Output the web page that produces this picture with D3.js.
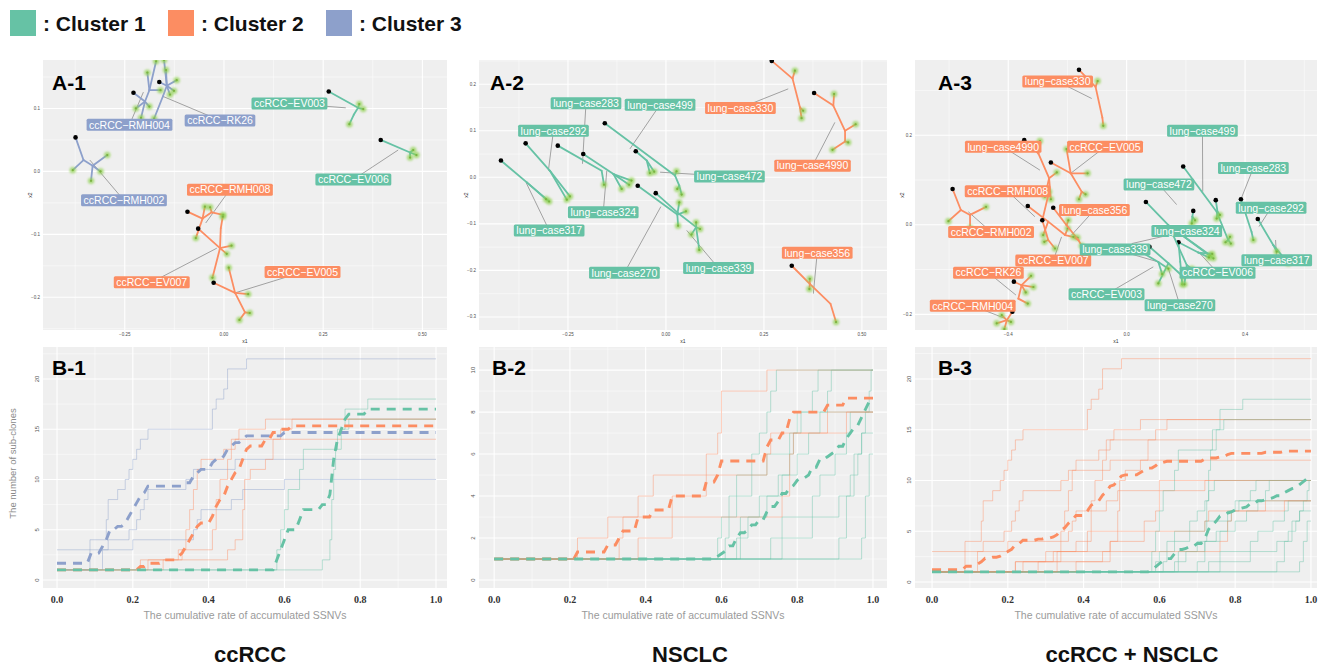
<!DOCTYPE html>
<html>
<head>
<meta charset="utf-8">
<script src="https://cdnjs.cloudflare.com/ajax/libs/d3/7.8.5/d3.min.js"></script>
<style>
  body { margin: 0; background: #fff; }
  text { font-family: "Liberation Sans", Arial, sans-serif; }
</style>
</head>
<body>
<script>
// cluster colours (ColorBrewer Set2)
var clusterColors = {1: "#66C2A5", 2: "#FC8D62", 3: "#8DA0CB"};
var legendLabels = [": Cluster 1", ": Cluster 2", ": Cluster 3"];
var columnTitles = ["ccRCC", "NSCLC", "ccRCC + NSCLC"];
var panelTagsA = ["A-1", "A-2", "A-3"];
var panelTagsB = ["B-1", "B-2", "B-3"];

// ---- B panels: number of sub-clones vs cumulative SSNV rate, [rate, count] at each step
var ccrccNames = ["ccRCC-RK26", "ccRCC-RMH004", "ccRCC-RMH002", "ccRCC-EV007", "ccRCC-RMH008", "ccRCC-EV005", "ccRCC-EV003", "ccRCC-EV006"];
var ccrccSteps = [
  [[0,1],[0.087,4],[0.13,6],[0.135,8],[0.16,9],[0.18,10],[0.19,11],[0.2,12],[0.21,13],[0.22,14],[0.24,15],[0.41,17],[0.42,18],[0.44,19],[0.45,21],[0.5,22]],
  [[0,1],[0.12,3],[0.135,4],[0.19,5],[0.21,6],[0.22,7],[0.23,8],[0.24,9],[0.34,10],[0.36,11],[0.47,12]],
  [[0,3],[0.2,4],[0.36,5],[0.37,6],[0.38,7],[0.46,8],[0.49,9],[0.6,10]],
  [[0,1],[0.28,2],[0.32,3],[0.34,5],[0.35,7],[0.36,9],[0.37,11],[0.38,12],[0.44,13],[0.46,14],[0.48,15],[0.55,16]],
  [[0,1],[0.24,2],[0.33,3],[0.41,5],[0.42,8],[0.43,10],[0.45,12],[0.46,13],[0.47,14]],
  [[0,1],[0.22,2],[0.45,3],[0.47,4],[0.49,7],[0.495,10],[0.51,11],[0.55,12],[0.57,14],[0.59,15],[0.62,16]],
  [[0,1],[0.58,3],[0.59,5],[0.6,7],[0.61,9],[0.64,11],[0.65,13],[0.74,15],[0.76,17],[0.82,18]],
  [[0,1],[0.7,2],[0.72,4],[0.725,8],[0.73,11],[0.735,13],[0.75,15],[0.77,16]]
];
var ccrccClusterOwn = [3, 3, 3, 2, 2, 2, 1, 1];
var ccrccClusterJoint = [2, 2, 2, 2, 2, 2, 1, 1];

var lungNames = ["lung-case499", "lung-case283", "lung-case292", "lung-case472", "lung-case324", "lung-case317", "lung-case270", "lung-case339", "lung-case4990", "lung-case330", "lung-case356"];
var lungSteps = [
  [[0,1],[0.59,2],[0.6,3],[0.62,4],[0.64,5],[0.68,6],[0.7,7],[0.72,8],[0.73,9],[0.745,10]],
  [[0,1],[0.61,2],[0.62,3],[0.64,4],[0.68,5],[0.72,6],[0.78,7],[0.8,8],[0.84,9],[0.855,10]],
  [[0,1],[0.64,2],[0.65,3],[0.7,4],[0.75,5],[0.8,6],[0.83,7],[0.86,8],[0.88,9],[0.89,10]],
  [[0,1],[0.91,2],[0.93,4],[0.95,6],[0.97,7],[0.98,8],[0.99,9],[0.995,10]],
  [[0,1],[0.65,2],[0.67,3],[0.72,4],[0.76,5],[0.78,6],[0.79,7],[0.81,8]],
  [[0,1],[0.73,2],[0.76,3],[0.84,4],[0.86,5],[0.9,6],[0.93,7],[0.94,8]],
  [[0,1],[0.76,2],[0.84,3],[0.91,4],[0.94,5],[0.96,6],[0.97,7]],
  [[0,1],[0.97,2],[0.98,4],[0.99,6]],
  [[0,1],[0.22,2],[0.3,3],[0.38,4],[0.42,5],[0.56,6],[0.59,7],[0.6,9],[0.72,10]],
  [[0,1],[0.33,2],[0.34,3],[0.47,4],[0.56,5],[0.72,6],[0.73,7],[0.88,8]],
  [[0,1],[0.38,2],[0.47,3],[0.76,4],[0.78,6],[0.79,7],[0.93,8]]
];
var lungCluster = [1, 1, 1, 1, 1, 1, 1, 1, 2, 2, 2];

// ---- A panels: phylogenetic trees projected on (x1, x2); node 0 is the root
var treesA1 = [
  {name: "ccRCC-RK26", cluster: 3, nodes: [[-0.163,0.142],[-0.144,0.136],[-0.119,0.145],[-0.126,0.128],[-0.146,0.161],[-0.136,0.122],[-0.154,0.119],[-0.176,0.084],[-0.151,0.177]], parent: [-1,0,1,1,1,1,1,6,1], label: [-0.010,0.081], pointer: [-0.153,0.119]},
  {name: "ccRCC-RMH004", cluster: 3, nodes: [[-0.228,0.125],[-0.199,0.111],[-0.222,0.100],[-0.209,0.085],[-0.188,0.103],[-0.188,0.129],[-0.193,0.157],[-0.171,0.175],[-0.160,0.129]], parent: [-1,0,1,1,1,1,5,5,5], label: [-0.238,0.074], pointer: [-0.203,0.126]},
  {name: "ccRCC-RMH002", cluster: 3, nodes: [[-0.374,0.054],[-0.354,0.018],[-0.381,0.002],[-0.331,0.009],[-0.294,0.026],[-0.335,-0.015],[-0.311,0.000]], parent: [-1,0,1,1,3,3,3], label: [-0.252,-0.046], pointer: [-0.338,0.018]},
  {name: "ccRCC-EV003", cluster: 1, nodes: [[0.264,0.127],[0.338,0.101],[0.351,0.099],[0.341,0.107],[0.327,0.090],[0.316,0.075]], parent: [-1,0,1,1,1,4], label: [0.165,0.108], pointer: [0.307,0.101]},
  {name: "ccRCC-EV006", cluster: 1, nodes: [[0.395,0.050],[0.469,0.030],[0.485,0.026],[0.477,0.034],[0.469,0.022]], parent: [-1,0,1,1,1], label: [0.326,-0.013], pointer: [0.439,0.034]},
  {name: "ccRCC-RMH008", cluster: 2, nodes: [[-0.092,-0.064],[-0.054,-0.075],[-0.048,-0.056],[-0.031,-0.065],[-0.002,-0.069],[-0.035,-0.057],[-0.071,-0.106]], parent: [-1,0,1,1,3,3,1], label: [0.015,-0.029], pointer: [-0.046,-0.082]},
  {name: "ccRCC-EV007", cluster: 2, nodes: [[-0.065,-0.091],[-0.010,-0.122],[-0.029,-0.169],[0.019,-0.118],[0.007,-0.131],[-0.008,-0.090],[-0.003,-0.072]], parent: [-1,0,1,1,1,1,5], label: [-0.182,-0.176], pointer: [-0.018,-0.122]},
  {name: "ccRCC-EV005", cluster: 2, nodes: [[-0.026,-0.177],[0.028,-0.193],[0.012,-0.153],[0.061,-0.195],[0.053,-0.224],[0.039,-0.236],[0.065,-0.225]], parent: [-1,0,1,1,1,4,4], label: [0.198,-0.160], pointer: [0.028,-0.193]}
];

var treesA2 = [
  {name: "lung-case317", cluster: 1, nodes: [[-0.421,0.036],[-0.355,-0.011],[-0.298,-0.052],[-0.306,-0.047]], parent: [-1,0,1,1], label: [-0.298,-0.114], pointer: [-0.357,-0.011]},
  {name: "lung-case292", cluster: 1, nodes: [[-0.358,0.073],[-0.296,0.014],[-0.245,-0.041],[-0.253,-0.048]], parent: [-1,0,1,1], label: [-0.287,0.100], pointer: [-0.300,0.014]},
  {name: "lung-case324", cluster: 1, nodes: [[-0.276,0.068],[-0.164,0.014],[-0.158,-0.016]], parent: [-1,0,1], label: [-0.160,-0.075], pointer: [-0.151,0.014]},
  {name: "lung-case283", cluster: 1, nodes: [[-0.211,0.050],[-0.134,0.007],[-0.094,-0.016],[-0.113,-0.025],[-0.088,-0.007]], parent: [-1,0,1,1,1], label: [-0.204,0.159], pointer: [-0.213,0.029]},
  {name: "lung-case499", cluster: 1, nodes: [[-0.156,0.116],[0.023,0.004],[0.027,0.013],[0.034,-0.018],[0.040,-0.037],[0.029,-0.025]], parent: [-1,0,1,1,3,3], label: [-0.015,0.156], pointer: [-0.092,0.061]},
  {name: "lung-case472", cluster: 1, nodes: [[-0.077,0.056],[-0.049,0.036],[-0.041,0.009],[-0.030,0.012]], parent: [-1,0,1,1], label: [0.162,0.002], pointer: [-0.015,0.011]},
  {name: "lung-case270", cluster: 1, nodes: [[-0.072,-0.018],[0.029,-0.080],[0.034,-0.054],[0.051,-0.073],[0.031,-0.104]], parent: [-1,0,1,1,1], label: [-0.106,-0.205], pointer: [-0.013,-0.063]},
  {name: "lung-case339", cluster: 1, nodes: [[-0.026,-0.034],[0.034,-0.079],[0.077,-0.107],[0.087,-0.111],[0.065,-0.123],[0.085,-0.156],[0.077,-0.097]], parent: [-1,0,1,2,2,2,2], label: [0.134,-0.195], pointer: [0.053,-0.114]},
  {name: "lung-case330", cluster: 2, nodes: [[0.270,0.250],[0.323,0.212],[0.329,0.229],[0.342,0.150],[0.346,0.127],[0.350,0.143]], parent: [-1,0,1,1,3,3], label: [0.190,0.149], pointer: [0.312,0.190]},
  {name: "lung-case4990", cluster: 2, nodes: [[0.378,0.181],[0.427,0.154],[0.429,0.179],[0.457,0.100],[0.484,0.114],[0.457,0.077],[0.425,0.059],[0.465,0.075]], parent: [-1,0,1,1,3,3,5,5], label: [0.374,0.025], pointer: [0.431,0.118]},
  {name: "lung-case356", cluster: 2, nodes: [[0.321,-0.190],[0.367,-0.229],[0.367,-0.218],[0.366,-0.240],[0.420,-0.272],[0.434,-0.311]], parent: [-1,0,1,1,1,4], label: [0.386,-0.162], pointer: [0.376,-0.250]}
];

var treesA3 = [
  {name: "lung-case330", cluster: 2, nodes: [[-0.161,0.346],[-0.105,0.308],[-0.098,0.321],[-0.082,0.239],[-0.079,0.221]], parent: [-1,0,1,1,3], label: [-0.233,0.320], pointer: [-0.118,0.282]},
  {name: "lung-case4990", cluster: 2, nodes: [[-0.346,0.189],[-0.298,0.159],[-0.293,0.187],[-0.262,0.104],[-0.236,0.117],[-0.276,0.063],[-0.256,0.057]], parent: [-1,0,1,1,3,3,3], label: [-0.417,0.174], pointer: [-0.293,0.122]},
  {name: "ccRCC-EV005", cluster: 2, nodes: [[-0.256,0.139],[-0.189,0.115],[-0.132,0.115],[-0.203,0.169],[-0.152,0.074],[-0.139,0.068],[-0.161,0.057]], parent: [-1,0,1,1,1,4,4], label: [-0.073,0.174], pointer: [-0.189,0.115]},
  {name: "ccRCC-RMH002", cluster: 2, nodes: [[-0.588,0.080],[-0.560,0.033],[-0.602,0.008],[-0.529,0.022],[-0.475,0.040],[-0.529,-0.007]], parent: [-1,0,1,1,3,3], label: [-0.458,-0.016], pointer: [-0.535,0.029]},
  {name: "ccRCC-RMH008", cluster: 2, nodes: [[-0.334,0.042],[-0.265,0.007],[-0.208,-0.023],[-0.166,-0.029],[-0.199,-0.008],[-0.282,-0.023]], parent: [-1,0,1,2,2,1], label: [-0.402,0.075], pointer: [-0.310,0.018]},
  {name: "ccRCC-EV007", cluster: 2, nodes: [[-0.285,0.010],[-0.265,-0.034],[-0.278,-0.038],[-0.242,-0.053],[-0.262,0.074]], parent: [-1,0,1,1,0], label: [-0.248,-0.080], pointer: [-0.220,-0.027]},
  {name: "lung-case356", cluster: 2, nodes: [[-0.248,0.038],[-0.203,-0.001],[-0.163,-0.034],[-0.152,-0.047],[-0.180,-0.027],[-0.197,0.010]], parent: [-1,0,1,2,2,1], label: [-0.109,0.033], pointer: [-0.186,-0.023]},
  {name: "ccRCC-RK26", cluster: 2, nodes: [[-0.381,-0.127],[-0.355,-0.135],[-0.323,-0.114],[-0.315,-0.139],[-0.341,-0.151],[-0.366,-0.165],[-0.334,-0.176]], parent: [-1,0,1,1,1,1,5], label: [-0.467,-0.107], pointer: [-0.374,-0.157]},
  {name: "ccRCC-RMH004", cluster: 2, nodes: [[-0.386,-0.194],[-0.405,-0.213],[-0.439,-0.220],[-0.413,-0.233],[-0.391,-0.217],[-0.422,-0.202]], parent: [-1,0,1,1,1,1], label: [-0.520,-0.181], pointer: [-0.411,-0.209]},
  {name: "lung-case499", cluster: 1, nodes: [[0.191,0.130],[0.304,0.029],[0.343,-0.034],[0.352,-0.042],[0.334,-0.039],[0.349,-0.027]], parent: [-1,0,1,2,2,2], label: [0.256,0.210], pointer: [0.257,0.074]},
  {name: "lung-case472", cluster: 1, nodes: [[0.225,0.031],[0.222,0.018],[0.220,0.003],[0.231,0.010]], parent: [-1,0,1,1], label: [0.109,0.090], pointer: [0.169,0.045]},
  {name: "lung-case283", cluster: 1, nodes: [[0.301,0.055],[0.307,0.029],[0.304,0.014],[0.315,0.022]], parent: [-1,0,1,1], label: [0.428,0.127], pointer: [0.386,0.057]},
  {name: "lung-case317", cluster: 1, nodes: [[0.386,0.057],[0.422,-0.016],[0.428,-0.034]], parent: [-1,0,1], label: [0.507,-0.079], pointer: [0.503,-0.034]},
  {name: "lung-case292", cluster: 1, nodes: [[0.443,0.013],[0.495,-0.045],[0.546,-0.086],[0.507,-0.060]], parent: [-1,0,1,1], label: [0.488,0.038], pointer: [0.447,-0.004]},
  {name: "lung-case324", cluster: 1, nodes: [[0.065,0.051],[0.141,-0.001],[0.282,-0.068],[0.293,-0.075]], parent: [-1,0,1,1], label: [0.203,-0.014], pointer: [0.017,-0.042]},
  {name: "ccRCC-EV006", cluster: 1, nodes: [[0.175,-0.039],[0.181,-0.083],[0.188,-0.133],[0.242,-0.062],[0.278,-0.073],[0.289,-0.065]], parent: [-1,0,1,0,3,3], label: [0.307,-0.107], pointer: [0.242,-0.060]},
  {name: "ccRCC-EV003", cluster: 1, nodes: [[0.077,-0.049],[0.141,-0.086],[0.107,-0.131],[0.191,-0.116]], parent: [-1,0,1,1], label: [-0.068,-0.155], pointer: [0.090,-0.094]},
  {name: "lung-case270", cluster: 1, nodes: [[0.152,-0.016],[0.203,-0.090],[0.195,-0.133],[0.220,-0.098]], parent: [-1,0,1,1], label: [0.180,-0.180], pointer: [0.141,-0.098]},
  {name: "lung-case339", cluster: 1, nodes: [[0.039,-0.057],[0.107,-0.083],[0.141,-0.098],[0.120,-0.110]], parent: [-1,0,1,1], label: [-0.039,-0.055], pointer: [0.107,-0.083]}
];

// ---- layout
var panelLeft = [43, 479, 915];
var panelWidth = [404, 408, 402];
var aTop = 60, aHeight = 270;
var bTop = 347, bHeight = 241;

var svg = d3.select("body").append("svg")
  .attr("width", 1319)
  .attr("height", 666);

var defs = svg.append("defs");
defs.append("filter").attr("id", "glow")
  .attr("x", "-100%").attr("y", "-100%").attr("width", "300%").attr("height", "300%")
  .append("feGaussianBlur").attr("stdDeviation", 1.1);

// legend
legendLabels.forEach(function(lab, i) {
  var lx = [10, 168, 326][i];
  svg.append("rect")
    .attr("x", lx).attr("y", 10)
    .attr("width", 26).attr("height", 26)
    .attr("fill", clusterColors[i + 1]);
  svg.append("text")
    .attr("x", lx + 33).attr("y", 31)
    .attr("font-size", 21).attr("font-weight", "bold")
    .attr("fill", "#111")
    .text(lab);
});

// column titles
columnTitles.forEach(function(t, i) {
  svg.append("text")
    .attr("x", [250, 690, 1132][i]).attr("y", 662)
    .attr("text-anchor", "middle")
    .attr("font-size", 22).attr("font-weight", "bold")
    .attr("fill", "#111")
    .text(t);
});

function minorTicks(ticks, domain) {
  var step = ticks[1] - ticks[0];
  var out = [];
  for (var v = ticks[0] - step / 2; v <= domain[1]; v += step) {
    if (v >= domain[0]) out.push(v);
  }
  return out;
}

function panelFrame(col, top, height, xDomain, yDomain, xTicks, yTicks, clipId) {
  var w = panelWidth[col];
  var g = svg.append("g").attr("transform", "translate(" + panelLeft[col] + "," + top + ")");
  var x = d3.scaleLinear().domain(xDomain).range([0, w]);
  var y = d3.scaleLinear().domain(yDomain).range([height, 0]);

  g.append("rect").attr("width", w).attr("height", height).attr("fill", "#EFEFEF");

  g.selectAll(".minor-x").data(minorTicks(xTicks, xDomain)).enter().append("line")
    .attr("x1", function(d) { return x(d); }).attr("x2", function(d) { return x(d); })
    .attr("y1", 0).attr("y2", height)
    .attr("stroke", "#fff").attr("stroke-width", 0.5);
  g.selectAll(".minor-y").data(minorTicks(yTicks, yDomain)).enter().append("line")
    .attr("y1", function(d) { return y(d); }).attr("y2", function(d) { return y(d); })
    .attr("x1", 0).attr("x2", w)
    .attr("stroke", "#fff").attr("stroke-width", 0.5);
  g.selectAll(".major-x").data(xTicks).enter().append("line")
    .attr("x1", function(d) { return x(d); }).attr("x2", function(d) { return x(d); })
    .attr("y1", 0).attr("y2", height)
    .attr("stroke", "#fff").attr("stroke-width", 1.1);
  g.selectAll(".major-y").data(yTicks).enter().append("line")
    .attr("y1", function(d) { return y(d); }).attr("y2", function(d) { return y(d); })
    .attr("x1", 0).attr("x2", w)
    .attr("stroke", "#fff").attr("stroke-width", 1.1);

  defs.append("clipPath").attr("id", clipId)
    .append("rect").attr("width", w).attr("height", height);

  return {g: g, x: x, y: y, w: w, h: height};
}

function drawTreePanel(col, trees, xDomain, yDomain, xTicks, yTicks, xFmt, yFmt) {
  var p = panelFrame(col, aTop, aHeight, xDomain, yDomain, xTicks, yTicks, "clipA" + col);
  var g = p.g, x = p.x, y = p.y;

  // axis tick labels, tiny as in the original
  g.selectAll(".xt").data(xTicks).enter().append("text")
    .attr("x", function(d) { return x(d); }).attr("y", p.h + 6)
    .attr("text-anchor", "middle").attr("font-size", 4.5).attr("fill", "#4d4d4d")
    .text(xFmt);
  g.selectAll(".yt").data(yTicks).enter().append("text")
    .attr("x", -3).attr("y", function(d) { return y(d) + 1.5; })
    .attr("text-anchor", "end").attr("font-size", 4.5).attr("fill", "#4d4d4d")
    .text(yFmt);
  g.append("text").attr("x", p.w / 2).attr("y", p.h + 13)
    .attr("text-anchor", "middle").attr("font-size", 5).attr("fill", "#333").text("x1");
  g.append("text").attr("transform", "translate(-11," + (p.h / 2) + ") rotate(-90)")
    .attr("text-anchor", "middle").attr("font-size", 5).attr("fill", "#333").text("x2");

  var inner = g.append("g").attr("clip-path", "url(#clipA" + col + ")");

  // leader lines
  inner.selectAll(".leader").data(trees).enter().append("line")
    .attr("x1", function(t) { return x(t.label[0]); })
    .attr("y1", function(t) { return y(t.label[1]); })
    .attr("x2", function(t) { return x(t.pointer[0]); })
    .attr("y2", function(t) { return y(t.pointer[1]); })
    .attr("stroke", "#555").attr("stroke-width", 0.6).attr("opacity", 0.85);

  trees.forEach(function(t) {
    var c = clusterColors[t.cluster];
    var edges = [];
    t.parent.forEach(function(par, i) { if (par >= 0) edges.push([t.nodes[par], t.nodes[i]]); });
    inner.selectAll(null).data(edges).enter().append("line")
      .attr("x1", function(e) { return x(e[0][0]); }).attr("y1", function(e) { return y(e[0][1]); })
      .attr("x2", function(e) { return x(e[1][0]); }).attr("y2", function(e) { return y(e[1][1]); })
      .attr("stroke", c).attr("stroke-width", 1.8).attr("stroke-linecap", "round");

    var leaves = t.nodes.filter(function(n, i) { return i > 0 && t.parent.indexOf(i) < 0; });
    inner.selectAll(null).data(leaves).enter().append("circle")
      .attr("cx", function(n) { return x(n[0]); }).attr("cy", function(n) { return y(n[1]); })
      .attr("r", 3.2).attr("fill", "#8fd14f").attr("opacity", 0.7)
      .attr("filter", "url(#glow)");
    inner.selectAll(null).data(leaves).enter().append("circle")
      .attr("cx", function(n) { return x(n[0]); }).attr("cy", function(n) { return y(n[1]); })
      .attr("r", 1.1).attr("fill", "#7cb342");

    inner.append("circle")
      .attr("cx", x(t.nodes[0][0])).attr("cy", y(t.nodes[0][1]))
      .attr("r", 2.3).attr("fill", "#000");
  });

  // labels
  trees.forEach(function(t) {
    var lab = inner.append("g")
      .attr("transform", "translate(" + x(t.label[0]) + "," + y(t.label[1]) + ")");
    var txt = lab.append("text")
      .attr("text-anchor", "middle").attr("y", 3.8)
      .attr("font-size", 10.5).attr("fill", "#fff")
      .text(t.name.replace(/-/g, "\u2212"));
    var tw = txt.node().getComputedTextLength();
    lab.insert("rect", "text")
      .attr("x", -tw / 2 - 2.5).attr("y", -6)
      .attr("width", tw + 5).attr("height", 12)
      .attr("rx", 1.5)
      .attr("fill", clusterColors[t.cluster]);
  });

  svg.append("text")
    .attr("x", panelLeft[col] + [9, 11, 23][col]).attr("y", 90)
    .attr("font-size", 21).attr("font-weight", "bold").attr("fill", "#000")
    .text(panelTagsA[col]);
}

function stepValue(steps, v) {
  var val = steps[0][1];
  steps.forEach(function(s) { if (s[0] <= v + 1e-9) val = s[1]; });
  return val;
}

function drawStepPanel(col, steps, clusters, xDomain, yDomain, yTicks, showYTitle) {
  var xTicks = [0, 0.2, 0.4, 0.6, 0.8, 1.0];
  var p = panelFrame(col, bTop, bHeight, xDomain, yDomain, xTicks, yTicks, "clipB" + col);
  var g = p.g, x = p.x, y = p.y;

  g.selectAll(".xt").data(xTicks).enter().append("text")
    .attr("x", function(d) { return x(d); }).attr("y", p.h + 15)
    .attr("text-anchor", "middle")
    .style("font-family", "'Liberation Serif', 'DejaVu Serif', serif")
    .attr("font-size", 10).attr("font-weight", "bold").attr("fill", "#333")
    .text(d3.format(".1f"));
  g.selectAll(".yt").data(yTicks).enter().append("text")
    .attr("transform", function(d) { return "translate(-4," + y(d) + ") rotate(-90)"; })
    .attr("text-anchor", "middle").attr("font-size", 6).attr("fill", "#555")
    .text(function(d) { return d; });
  g.append("text")
    .attr("x", p.w / 2).attr("y", p.h + 31)
    .attr("text-anchor", "middle").attr("font-size", 10.5).attr("fill", "#9a9a9a")
    .text("The cumulative rate of accumulated SSNVs");
  if (showYTitle) {
    g.append("text")
      .attr("transform", "translate(-27," + (p.h / 2 - 4) + ") rotate(-90)")
      .attr("text-anchor", "middle").attr("font-size", 9.5).attr("fill", "#8a8a8a")
      .text("The number of sub-clones");
  }

  var inner = g.append("g").attr("clip-path", "url(#clipB" + col + ")");
  var stepLine = d3.line()
    .x(function(d) { return x(d[0]); })
    .y(function(d) { return y(d[1]); })
    .curve(d3.curveStepAfter);

  steps.forEach(function(s, i) {
    inner.append("path")
      .datum(s.concat([[1, s[s.length - 1][1]]]))
      .attr("d", stepLine)
      .attr("fill", "none")
      .attr("stroke", clusterColors[clusters[i]])
      .attr("stroke-width", 0.8)
      .attr("opacity", 0.55);
  });

  // cluster mean of the step curves, read on a 0.01 grid
  var grid = d3.range(0, 101).map(function(i) { return i / 100; });
  var meanLine = d3.line()
    .x(function(d) { return x(d[0]); })
    .y(function(d) { return y(d[1]); });
  [3, 2, 1].forEach(function(c) {
    var members = steps.filter(function(s, i) { return clusters[i] === c; });
    if (!members.length) return;
    var pts = grid.map(function(v) {
      return [v, d3.mean(members, function(s) { return stepValue(s, v); })];
    });
    inner.append("path")
      .datum(pts)
      .attr("d", meanLine)
      .attr("fill", "none")
      .attr("stroke", clusterColors[c])
      .attr("stroke-width", 2.9)
      .attr("stroke-dasharray", "9,7");
  });

  svg.append("text")
    .attr("x", panelLeft[col] + [9, 13, 23][col]).attr("y", 375)
    .attr("font-size", 21).attr("font-weight", "bold").attr("fill", "#000")
    .text(panelTagsB[col]);
}

drawTreePanel(0, treesA1, [-0.456, 0.562], [-0.252, 0.177], [-0.25, 0, 0.25, 0.5], [-0.2, -0.1, 0, 0.1], d3.format(".2f"), d3.format(".1f"));
drawTreePanel(1, treesA2, [-0.477, 0.564], [-0.328, 0.252], [-0.25, 0, 0.25, 0.5], [-0.3, -0.2, -0.1, 0, 0.1, 0.2], d3.format(".2f"), d3.format(".1f"));
drawTreePanel(2, treesA3, [-0.715, 0.643], [-0.235, 0.368], [-0.4, 0, 0.4], [-0.2, 0, 0.2], d3.format(".1f"), d3.format(".1f"));

drawStepPanel(0, ccrccSteps, ccrccClusterOwn, [-0.037, 1.029], [-0.8, 23.18], [0, 5, 10, 15, 20], true);
drawStepPanel(1, lungSteps, lungCluster, [-0.040, 1.037], [-0.38, 11.1], [0, 2, 4, 6, 8, 10], false);
drawStepPanel(2, ccrccSteps.concat(lungSteps), ccrccClusterJoint.concat(lungCluster), [-0.045, 1.016], [-0.59, 23.15], [0, 5, 10, 15, 20], false);
</script>
</body>
</html>
